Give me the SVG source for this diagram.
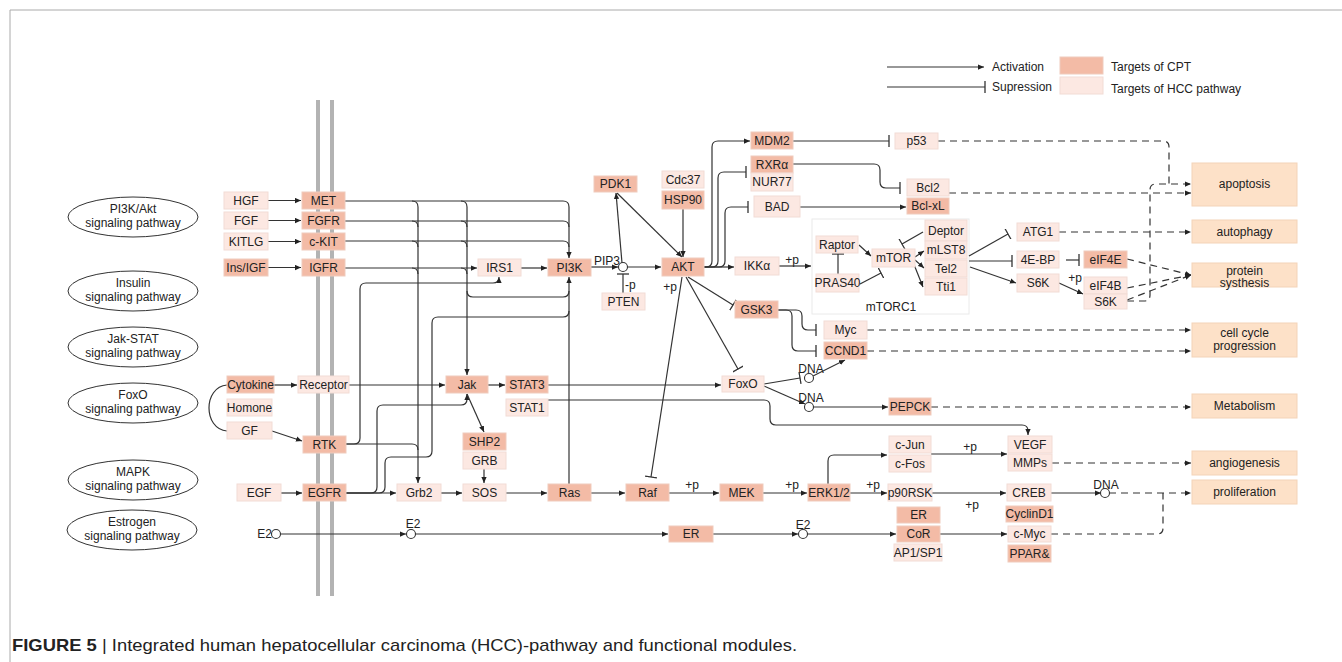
<svg xmlns="http://www.w3.org/2000/svg" width="1342" height="662" viewBox="0 0 1342 662">
<style>
text{font-family:"Liberation Sans",Arial,sans-serif;font-size:12px;fill:#222;text-anchor:middle}
.d{fill:#f3bba6;stroke:#efcbbd;stroke-width:1}
.l{fill:#fce8e2;stroke:#f2dcd5;stroke-width:1}
.f{fill:#fde1c8;stroke:#f3d3b8;stroke-width:1}
.c path,.c line{fill:none;stroke:#333;stroke-width:1.2}
.c .ds{stroke-dasharray:7,5}
.a{marker-end:url(#ar)}
.s{marker-end:url(#br)}
.ell{fill:#fff;stroke:#333;stroke-width:1}
.cir{fill:#fff;stroke:#333;stroke-width:1.1}
.mem{stroke:#b3b3b3;stroke-width:4}
</style>
<defs>
<marker id="ar" viewBox="0 0 8 8" refX="8" refY="4" markerWidth="6" markerHeight="6" orient="auto" markerUnits="userSpaceOnUse"><path d="M0,0.5 L8,4 L0,7.5 z" fill="#222"/></marker>
<marker id="br" viewBox="0 0 2 12" refX="1" refY="6" markerWidth="2" markerHeight="12" orient="auto" markerUnits="userSpaceOnUse"><path d="M1,0 V12" stroke="#333" stroke-width="1.3"/></marker>
</defs>
<rect width="1342" height="662" fill="#fff"/>
<g id="frame">
<line x1="10" y1="10" x2="1342" y2="10" stroke="#aaa" stroke-width="1"/>
<line x1="10" y1="10" x2="10" y2="662" stroke="#aaa" stroke-width="1"/>
</g>
<g id="membrane">
<line class="mem" x1="318" y1="100" x2="318" y2="596"/>
<line class="mem" x1="332" y1="100" x2="332" y2="596"/>
</g>
<g id="mtorc1"><rect x="812" y="219" width="157" height="95" fill="#fff" stroke="#eaeaea" stroke-width="1"/><text x="891" y="311">mTORC1</text></g>
<g id="legend">
<g class="c"><path class="a" d="M887,67 H984"/><path class="s" d="M887,87 H985"/></g>
<text x="992" y="71" style="text-anchor:start">Activation</text>
<text x="992" y="91" style="text-anchor:start">Supression</text>
<rect class="d" x="1060" y="57" width="43" height="17"/>
<rect class="l" x="1060" y="77" width="43" height="17"/>
<text x="1111" y="71" style="text-anchor:start">Targets of CPT</text>
<text x="1111" y="93" style="text-anchor:start">Targets of HCC pathway</text>
</g>
<g id="pathways">
<g id="p-pi3k"><ellipse class="ell" cx="133" cy="217" rx="65" ry="20"/><text x="133" y="213">PI3K/Akt</text><text x="133" y="227">signaling pathway</text></g>
<g id="p-insulin"><ellipse class="ell" cx="133" cy="291" rx="65" ry="20"/><text x="133" y="287">Insulin</text><text x="133" y="301">signaling pathway</text></g>
<g id="p-jak"><ellipse class="ell" cx="133" cy="347" rx="65" ry="20"/><text x="133" y="343">Jak-STAT</text><text x="133" y="357">signaling pathway</text></g>
<g id="p-foxo"><ellipse class="ell" cx="133" cy="403" rx="65" ry="20"/><text x="133" y="399">FoxO</text><text x="133" y="413">signaling pathway</text></g>
<g id="p-mapk"><ellipse class="ell" cx="133" cy="480" rx="65" ry="20"/><text x="133" y="476">MAPK</text><text x="133" y="490">signaling pathway</text></g>
<g id="p-estrogen"><ellipse class="ell" cx="132" cy="530" rx="65" ry="20"/><text x="132" y="526">Estrogen</text><text x="132" y="540">signaling pathway</text></g>
</g>
<g id="connectors" class="c">
<path class="a" d="M268,200.5 H301"/>
<path class="a" d="M268,220.5 H301"/>
<path class="a" d="M268,241.5 H301"/>
<path class="a" d="M268,267.5 H301"/>
<path class="a" d="M345,201 H563 Q569,201 569,207 V258"/>
<path d="M345,221 H563 Q569,221 569,227"/>
<path d="M345,241 H563 Q569,241 569,247"/>
<path class="a" d="M412,201 Q418,201 418,207 V483"/>
<path class="a" d="M461,201 Q467,201 467,207 V375"/>
<path d="M412,221 Q418,221 418,227"/>
<path d="M412,241 Q418,241 418,247"/>
<path d="M412,268 Q418,268 418,274"/>
<path d="M461,221 Q467,221 467,227"/>
<path d="M461,241 Q467,241 467,247"/>
<path d="M461,268 Q467,268 467,274"/>
<path class="a" d="M345,268 H477"/>
<path class="a" d="M521,268 H547"/>
<path class="a" d="M346,444 H354 Q360,444 360,438 V289 Q360,283 366,283 H493 Q499,283 499,277"/>
<path d="M346,444 H412 Q418,444 418,450"/>
<path d="M467,291 Q467,297 473,297 H563 Q569,297 569,291"/>
<path class="a" d="M569,484 V277"/>
<path d="M346,493 H379 Q385,493 385,487 V463 Q385,457 391,457 H426 Q432,457 432,451 V323 Q432,317 438,317 H563 Q569,317 569,311"/>
<path class="a" d="M346,493 H371 Q377,493 377,487 V411 Q377,405 383,405 H461 Q467,405 467,399 V394"/>
<path class="a" d="M281,493 H302"/>
<path class="a" d="M346,493 H396"/>
<path class="a" d="M441,493 H462"/>
<path class="a" d="M506,493 H547"/>
<path class="a" d="M591,493 H625"/>
<path class="a" d="M669,493 H719"/>
<path class="a" d="M763,493 H807"/>
<path class="a" d="M850,493 H887"/>
<path class="a" d="M932,493 H1006"/>
<path class="a" d="M1051,493 H1101"/>
<path class="a ds" d="M1109,493 H1191"/>
<path class="ds" d="M1051,534 H1157 Q1163,534 1163,528 V493"/>
<path class="a ds" d="M1052,463 H1191"/>
<path class="a" d="M280,534 H406"/>
<path class="a" d="M415,534 H668"/>
<path class="a" d="M713,534 H798"/>
<path class="a" d="M807,534 H896"/>
<path class="a" d="M940,534 H1007"/>
<path class="a" d="M274,385 H297"/>
<path class="a" d="M349,385 H445"/>
<path class="a" d="M488,385 H505"/>
<path class="a" d="M548,385 H721"/>
<path d="M227,385 C203,387 203,429 227,431"/>
<path class="a" d="M272,431 L302,441"/>
<path class="a" d="M467,394 L484,432"/>
<path class="a" d="M484,469 V483"/>
<path class="a" d="M548,400 H764 Q770,400 770,406 V419 Q770,425 776,425 H1022 Q1028,425 1028,431 V435"/>
<path class="a" d="M591,267 H618"/>
<path class="a" d="M627,267 H661"/>
<path class="s" d="M623,293 V274"/>
<path class="a" d="M622,263 L616,193"/>
<path class="a" d="M617,193 L682,257"/>
<path class="a" d="M683,209 V257"/>
<path class="a" d="M704,267 H734"/>
<path class="a" d="M704,267 H706 Q712,267 712,261 V147 Q712,141 718,141 H750"/>
<path class="s" d="M704,267 H712 Q718,267 718,261 V178 Q718,172 724,172 H746"/>
<path class="s" d="M704,267 H719 Q725,267 725,261 V213 Q725,207 731,207 H748"/>
<path class="s" d="M793,141 H889"/>
<path class="ds" d="M938,141 H1163 Q1169,141 1169,147 V184"/>
<path class="a ds" d="M1127,301 H1144 Q1150,301 1150,295 V190 Q1150,184 1156,184 H1191"/>
<path class="s" d="M793,164 H874 Q880,164 880,170 V182 Q880,188 886,188 H900"/>
<path class="a ds" d="M949,193 H1191"/>
<path class="a" d="M800,207 H906"/>
<path class="a" d="M779,266 H811"/>
<path class="a" d="M859,245 L871,256"/>
<path class="s" d="M838,274 V254"/>
<path class="s" d="M860,284 L881,273"/>
<path class="s" d="M923,232 L902,244"/>
<path class="a" d="M915,257 L924,251"/>
<path class="a" d="M915,260 L924,268"/>
<path class="a" d="M913,262 L923,287"/>
<path class="s" d="M969,256 L1008,234"/>
<path class="s" d="M969,261 H1012"/>
<path class="a" d="M970,267 L1016,283"/>
<path class="s" d="M1066,260 H1079"/>
<path class="a" d="M1059,283 L1083,294"/>
<path class="a ds" d="M1059,232 H1191"/>
<path class="a ds" d="M1127,259 L1191,275"/>
<path class="a ds" d="M1127,288 L1191,275"/>
<path class="a ds" d="M1127,300 L1191,275"/>
<path class="s" d="M682,277 L651,477"/>
<path class="s" d="M688,277 L733,305"/>
<path class="s" d="M686,277 L738,369"/>
<path class="s" d="M778,310 H796 Q802,310 802,316 V324 Q802,330 808,330 H816"/>
<path class="s" d="M778,310 H786 Q792,310 792,316 V345 Q792,351 798,351 H816"/>
<path class="a ds" d="M867,330 H1191"/>
<path class="a ds" d="M867,351 H1191"/>
<path class="s" d="M764,384 L800,378"/>
<path class="a" d="M813,376 L845,360"/>
<path class="a" d="M764,386 L805,404"/>
<path class="a" d="M813,407 H888"/>
<path class="a ds" d="M931,407 H1191"/>
<path class="a" d="M828,484 V461 Q828,455 834,455 H887"/>
<path class="a" d="M931,454 H1007"/>
</g>
<g id="labels">
<text x="607" y="265">PIP3</text>
<text x="625" y="289" style="text-anchor:start">-p</text>
<text x="670" y="291">+p</text>
<text x="792" y="264">+p</text>
<text x="1075" y="282">+p</text>
<text x="692" y="489">+p</text>
<text x="792" y="489">+p</text>
<text x="873" y="489">+p</text>
<text x="972" y="509">+p</text>
<text x="970" y="451">+p</text>
<text x="811" y="373">DNA</text>
<text x="811" y="402">DNA</text>
<text x="1106" y="489">DNA</text>
<text x="272" y="538" style="text-anchor:end">E2</text>
<text x="413" y="528">E2</text>
<text x="803" y="529">E2</text>
</g>
<g id="circles">
<circle id="c-pip3" class="cir" cx="623" cy="267" r="4.5"/>
<circle id="c-dna1" class="cir" cx="809" cy="378" r="4.5"/>
<circle id="c-dna2" class="cir" cx="809" cy="407" r="4.5"/>
<circle id="c-dna3" class="cir" cx="1105" cy="493" r="4.5"/>
<circle id="c-e2a" class="cir" cx="276" cy="534" r="4.5"/>
<circle id="c-e2b" class="cir" cx="411" cy="534" r="4.5"/>
<circle id="c-e2c" class="cir" cx="803" cy="534" r="4.5"/>
</g>
<g id="nodes">
<g id="n-HGF"><rect class="l" x="224" y="192" width="44" height="17"/><text x="246" y="204.5">HGF</text></g>
<g id="n-FGF"><rect class="l" x="224" y="212" width="44" height="17"/><text x="246" y="224.5">FGF</text></g>
<g id="n-KITLG"><rect class="l" x="224" y="233" width="44" height="17"/><text x="246" y="245.5">KITLG</text></g>
<g id="n-InsIGF"><rect class="d" x="224" y="259" width="44" height="17"/><text x="246" y="271.5">Ins/IGF</text></g>
<g id="n-MET"><rect class="d" x="302" y="192" width="43" height="17"/><text x="323.5" y="204.5">MET</text></g>
<g id="n-FGFR"><rect class="d" x="302" y="212" width="43" height="17"/><text x="323.5" y="224.5">FGFR</text></g>
<g id="n-cKIT"><rect class="d" x="302" y="233" width="43" height="17"/><text x="323.5" y="245.5">c-KIT</text></g>
<g id="n-IGFR"><rect class="d" x="302" y="259" width="43" height="17"/><text x="323.5" y="271.5">IGFR</text></g>
<g id="n-IRS1"><rect class="l" x="478" y="259" width="43" height="17"/><text x="499.5" y="271.5">IRS1</text></g>
<g id="n-PI3K"><rect class="d" x="548" y="259" width="43" height="17"/><text x="569.5" y="271.5">PI3K</text></g>
<g id="n-Cytokine"><rect class="d" x="227" y="376" width="47" height="17"/><text x="250.5" y="388.5">Cytokine</text></g>
<g id="n-Homone"><rect class="l" x="227" y="399" width="45" height="17"/><text x="249.5" y="411.5">Homone</text></g>
<g id="n-GF"><rect class="l" x="227" y="422" width="45" height="17"/><text x="249.5" y="434.5">GF</text></g>
<g id="n-Receptor"><rect class="l" x="298" y="376" width="51" height="17"/><text x="323.5" y="388.5">Receptor</text></g>
<g id="n-RTK"><rect class="d" x="303" y="436" width="43" height="17"/><text x="324.5" y="448.5">RTK</text></g>
<g id="n-EGF"><rect class="l" x="237" y="484" width="44" height="17"/><text x="259" y="496.5">EGF</text></g>
<g id="n-EGFR"><rect class="d" x="303" y="484" width="43" height="17"/><text x="324.5" y="496.5">EGFR</text></g>
<g id="n-Grb2"><rect class="l" x="397" y="484" width="44" height="17"/><text x="419" y="496.5">Grb2</text></g>
<g id="n-Jak"><rect class="d" x="446" y="376" width="42" height="17"/><text x="467" y="388.5">Jak</text></g>
<g id="n-STAT3"><rect class="d" x="506" y="376" width="42" height="17"/><text x="527" y="388.5">STAT3</text></g>
<g id="n-STAT1"><rect class="l" x="506" y="399" width="42" height="17"/><text x="527" y="411.5">STAT1</text></g>
<g id="n-SHP2"><rect class="d" x="463" y="433" width="43" height="17"/><text x="484.5" y="445.5">SHP2</text></g>
<g id="n-GRB"><rect class="l" x="463" y="452" width="43" height="17"/><text x="484.5" y="464.5">GRB</text></g>
<g id="n-SOS"><rect class="l" x="463" y="484" width="43" height="17"/><text x="484.5" y="496.5">SOS</text></g>
<g id="n-Ras"><rect class="d" x="548" y="484" width="43" height="17"/><text x="569.5" y="496.5">Ras</text></g>
<g id="n-Raf"><rect class="d" x="626" y="484" width="43" height="17"/><text x="647.5" y="496.5">Raf</text></g>
<g id="n-MEK"><rect class="d" x="720" y="484" width="43" height="17"/><text x="741.5" y="496.5">MEK</text></g>
<g id="n-ERK"><rect class="d" x="808" y="484" width="42" height="17"/><text x="829" y="496.5">ERK1/2</text></g>
<g id="n-p90RSK"><rect class="l" x="888" y="484" width="44" height="17"/><text x="910" y="496.5">p90RSK</text></g>
<g id="n-cJun"><rect class="l" x="889" y="436" width="42" height="17"/><text x="910" y="448.5">c-Jun</text></g>
<g id="n-cFos"><rect class="l" x="889" y="455" width="42" height="17"/><text x="910" y="467.5">c-Fos</text></g>
<g id="n-VEGF"><rect class="l" x="1008" y="436" width="44" height="17"/><text x="1030" y="448.5">VEGF</text></g>
<g id="n-MMPs"><rect class="l" x="1008" y="454" width="44" height="17"/><text x="1030" y="466.5">MMPs</text></g>
<g id="n-CREB"><rect class="l" x="1007" y="484" width="44" height="17"/><text x="1029" y="496.5">CREB</text></g>
<g id="n-CyclinD1"><rect class="d" x="1006" y="506" width="47" height="16"/><text x="1029.5" y="518">CyclinD1</text></g>
<g id="n-cMyc"><rect class="l" x="1008" y="526" width="43" height="16"/><text x="1029.5" y="538">c-Myc</text></g>
<g id="n-PPAR"><rect class="d" x="1008" y="545" width="43" height="17"/><text x="1029.5" y="557.5">PPAR&amp;</text></g>
<g id="n-ER2"><rect class="d" x="897" y="507" width="43" height="16"/><text x="918.5" y="519">ER</text></g>
<g id="n-CoR"><rect class="d" x="897" y="526" width="43" height="16"/><text x="918.5" y="538">CoR</text></g>
<g id="n-AP1"><rect class="l" x="894" y="544" width="48" height="17"/><text x="918" y="556.5">AP1/SP1</text></g>
<g id="n-ER1"><rect class="d" x="669" y="526" width="44" height="16"/><text x="691" y="538">ER</text></g>
<g id="n-PDK1"><rect class="d" x="594" y="176" width="43" height="16"/><text x="615.5" y="188">PDK1</text></g>
<g id="n-Cdc37"><rect class="l" x="662" y="171" width="42" height="17"/><text x="683" y="183.5">Cdc37</text></g>
<g id="n-HSP90"><rect class="d" x="662" y="191" width="42" height="18"/><text x="683" y="204">HSP90</text></g>
<g id="n-AKT"><rect class="d" x="662" y="258" width="42" height="18"/><text x="683" y="271">AKT</text></g>
<g id="n-PTEN"><rect class="l" x="602" y="293" width="43" height="17"/><text x="623.5" y="305.5">PTEN</text></g>
<g id="n-IKK"><rect class="l" x="735" y="257" width="44" height="18"/><text x="757" y="270">IKKα</text></g>
<g id="n-GSK3"><rect class="d" x="735" y="301" width="43" height="17"/><text x="756.5" y="313.5">GSK3</text></g>
<g id="n-Myc"><rect class="l" x="824" y="321" width="43" height="18"/><text x="845.5" y="334">Myc</text></g>
<g id="n-CCND1"><rect class="d" x="824" y="342" width="43" height="17"/><text x="845.5" y="354.5">CCND1</text></g>
<g id="n-FoxO"><rect class="l" x="722" y="376" width="42" height="16"/><text x="743" y="388">FoxO</text></g>
<g id="n-PEPCK"><rect class="d" x="889" y="398" width="42" height="17"/><text x="910" y="410.5">PEPCK</text></g>
<g id="n-MDM2"><rect class="d" x="751" y="132" width="42" height="17"/><text x="772" y="144.5">MDM2</text></g>
<g id="n-RXR"><rect class="d" x="751" y="156" width="42" height="17"/><text x="772" y="168.5">RXRα</text></g>
<g id="n-NUR77"><rect class="l" x="751" y="173" width="42" height="18"/><text x="772" y="186">NUR77</text></g>
<g id="n-BAD"><rect class="l" x="754" y="196" width="46" height="21"/><text x="777" y="210.5">BAD</text></g>
<g id="n-p53"><rect class="l" x="895" y="133" width="43" height="16"/><text x="916.5" y="145">p53</text></g>
<g id="n-Bcl2"><rect class="l" x="907" y="179" width="42" height="17"/><text x="928" y="191.5">Bcl2</text></g>
<g id="n-BclxL"><rect class="d" x="907" y="198" width="42" height="16"/><text x="928" y="210">Bcl-xL</text></g>
<g id="n-Raptor"><rect class="l" x="816" y="236" width="42" height="17"/><text x="837" y="248.5">Raptor</text></g>
<g id="n-PRAS40"><rect class="l" x="816" y="274" width="43" height="18"/><text x="837.5" y="287">PRAS40</text></g>
<g id="n-mTOR"><rect class="l" x="872" y="249" width="43" height="18"/><text x="893.5" y="262">mTOR</text></g>
<g id="n-Deptor"><rect class="l" x="925" y="220" width="42" height="21"/><text x="946" y="234.5">Deptor</text></g>
<g id="n-mLST8"><rect class="l" x="925" y="241" width="42" height="18"/><text x="946" y="254">mLST8</text></g>
<g id="n-Tel2"><rect class="l" x="925" y="260" width="42" height="17"/><text x="946" y="272.5">Tel2</text></g>
<g id="n-Tti1"><rect class="l" x="925" y="278" width="42" height="17"/><text x="946" y="290.5">Tti1</text></g>
<g id="n-ATG1"><rect class="l" x="1017" y="223" width="42" height="18"/><text x="1038" y="236">ATG1</text></g>
<g id="n-4EBP"><rect class="l" x="1017" y="251" width="42" height="17"/><text x="1038" y="263.5">4E-BP</text></g>
<g id="n-S6K"><rect class="l" x="1017" y="274" width="42" height="18"/><text x="1038" y="287">S6K</text></g>
<g id="n-eIF4E"><rect class="d" x="1084" y="251" width="43" height="17"/><text x="1105.5" y="263.5">eIF4E</text></g>
<g id="n-eIF4B"><rect class="l" x="1084" y="277" width="43" height="17"/><text x="1105.5" y="289.5">eIF4B</text></g>
<g id="n-S6K2"><rect class="l" x="1084" y="294" width="43" height="15"/><text x="1105.5" y="305.5">S6K</text></g>
<g id="f-apoptosis"><rect class="f" x="1192" y="163" width="105" height="43"/><text x="1244.5" y="188">apoptosis</text></g>
<g id="f-autophagy"><rect class="f" x="1192" y="220" width="105" height="23"/><text x="1244.5" y="236">autophagy</text></g>
<g id="f-protein"><rect class="f" x="1192" y="263" width="105" height="24"/><text x="1244.5" y="275">protein</text><text x="1244.5" y="287">systhesis</text></g>
<g id="f-cellcycle"><rect class="f" x="1192" y="323" width="105" height="34"/><text x="1244.5" y="337">cell cycle</text><text x="1244.5" y="350">progression</text></g>
<g id="f-metabolism"><rect class="f" x="1192" y="394" width="105" height="24"/><text x="1244.5" y="410">Metabolism</text></g>
<g id="f-angiogenesis"><rect class="f" x="1192" y="451" width="105" height="24"/><text x="1244.5" y="467">angiogenesis</text></g>
<g id="f-proliferation"><rect class="f" x="1192" y="480" width="105" height="24"/><text x="1244.5" y="496">proliferation</text></g>
</g>
<text x="12" y="651" style="text-anchor:start;font-size:17px" textLength="785" lengthAdjust="spacingAndGlyphs"><tspan font-weight="bold">FIGURE 5</tspan> | Integrated human hepatocellular carcinoma (HCC)-pathway and functional modules.</text>
</svg>
